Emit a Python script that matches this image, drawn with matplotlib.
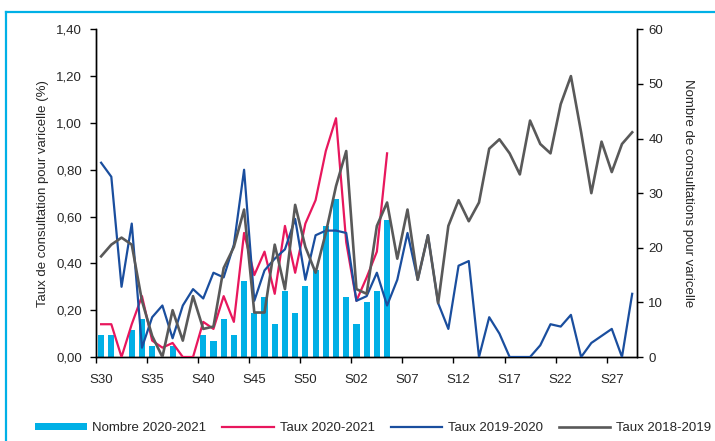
import numpy as np
import matplotlib
matplotlib.use("Agg")
import matplotlib.pyplot as plt
from matplotlib.lines import Line2D
from matplotlib.patches import Patch
from matplotlib.ticker import FuncFormatter

plt.rcParams['font.family'] = ['Liberation Sans', 'DejaVu Sans']

# semaines S30 (2020) -> S29 (2021), 2020 a 53 semaines
semaines = ['S%02d' % s for s in range(30, 54)] + ['S%02d' % s for s in range(1, 30)]

nombre_2020_2021 = [4, 4, 0, 5, 7, 2, 0, 2, 0, 0, 4, 3, 7, 4, 14, 8, 11, 6, 12, 8,
                    13, 16, 24, 29, 11, 6, 10, 12, 25]

taux_2020_2021 = [0.14, 0.14, 0.00, 0.14, 0.26, 0.07, 0.04, 0.06, 0.00, 0.00,
                  0.15, 0.12, 0.26, 0.15, 0.53, 0.35, 0.45, 0.27, 0.56, 0.36,
                  0.57, 0.67, 0.88, 1.02, 0.49, 0.24, 0.34, 0.45, 0.87]

taux_2019_2020 = [0.83, 0.77, 0.30, 0.57, 0.04, 0.17, 0.22, 0.08, 0.22, 0.29,
                  0.25, 0.36, 0.34, 0.48, 0.80, 0.24, 0.37, 0.42, 0.46, 0.59,
                  0.33, 0.52, 0.54, 0.54, 0.53, 0.24, 0.26, 0.36, 0.22, 0.33,
                  0.53, 0.33, 0.52, 0.23, 0.12, 0.39, 0.41, 0.00, 0.17, 0.10,
                  0.00, 0.00, 0.00, 0.05, 0.14, 0.13, 0.18, 0.00, 0.06, 0.09,
                  0.12, 0.00, 0.27]

taux_2018_2019 = [0.43, 0.48, 0.51, 0.48, 0.24, 0.09, 0.00, 0.20, 0.07, 0.26,
                  0.12, 0.13, 0.38, 0.47, 0.63, 0.19, 0.19, 0.48, 0.29, 0.65,
                  0.47, 0.36, 0.53, 0.73, 0.88, 0.29, 0.27, 0.56, 0.66, 0.42,
                  0.63, 0.33, 0.52, 0.23, 0.56, 0.67, 0.58, 0.66, 0.89, 0.93,
                  0.87, 0.78, 1.01, 0.91, 0.87, 1.08, 1.20, 0.96, 0.70, 0.92,
                  0.79, 0.91, 0.96]

c_bar = '#00B0E6'
c_rouge = '#E8175D'
c_bleu = '#1A4E9E'
c_gris = '#595959'
c_texte = '#262626'
fs = 9.5

fig = plt.figure(figsize=(7.15, 4.41), dpi=100)
ax = fig.add_axes([96 / 715, 1 - 357 / 441, (637.3 - 96) / 715, (357 - 29.3) / 441])
ax2 = ax.twinx()

x = np.arange(len(semaines))

ax2.bar(x[:len(nombre_2020_2021)], nombre_2020_2021, width=0.6, color=c_bar, zorder=2)

ax.plot(x[:len(taux_2020_2021)], taux_2020_2021, color=c_rouge, lw=1.6, zorder=3)
ax.plot(x, taux_2019_2020, color=c_bleu, lw=1.6, zorder=4)
ax.plot(x, taux_2018_2019, color=c_gris, lw=1.9, zorder=5)

# lignes au-dessus des barres
ax.set_zorder(ax2.get_zorder() + 1)
ax.patch.set_visible(False)

ax.set_xlim(-0.5, len(semaines) - 0.5)
ax.set_ylim(0, 1.4)
ax2.set_ylim(0, 60)
ax.set_yticks(np.arange(0, 1.41, 0.2))
ax2.set_yticks(np.arange(0, 61, 10))
ax.yaxis.set_major_formatter(FuncFormatter(lambda v, p: ('%.2f' % v).replace('.', ',')))

# graduations entre les categories, etiquettes au centre
ax.set_xticks(np.arange(-0.5, len(semaines) - 1, 5))
ax.set_xticklabels([])
ax.set_xticks(x[::5], minor=True)
ax.set_xticklabels([semaines[i] for i in x[::5]], minor=True)
ax.tick_params(axis='x', which='major', direction='out', length=4, width=1, color='black')
ax.tick_params(axis='x', which='minor', length=0, pad=12, labelsize=fs, labelcolor=c_texte)
ax.tick_params(axis='y', direction='out', length=4, width=1, pad=6, labelsize=fs, labelcolor=c_texte)
ax2.tick_params(axis='y', direction='out', length=4, width=1, pad=4, labelsize=fs, labelcolor=c_texte)

for a in (ax, ax2):
    a.spines['top'].set_visible(False)
    for s in ('left', 'right', 'bottom'):
        a.spines[s].set_linewidth(1)
        a.spines[s].set_color('black')

ax.set_ylabel('Taux de consultation pour varicelle (%)', fontsize=fs, color=c_texte, labelpad=5)
ax2.set_ylabel('Nombre de consultations pour varicelle', fontsize=fs, color=c_texte,
               rotation=270, labelpad=22)

handles = [Patch(facecolor=c_bar, edgecolor='none'),
           Line2D([], [], color=c_rouge, lw=1.6),
           Line2D([], [], color=c_bleu, lw=1.6),
           Line2D([], [], color=c_gris, lw=1.9)]
noms = ['Nombre 2020-2021', 'Taux 2020-2021', 'Taux 2019-2020', 'Taux 2018-2019']
fig.legend(handles, noms, loc='center', bbox_to_anchor=(0.522, 1 - 428 / 441), ncol=4,
           frameon=False, fontsize=fs, handlelength=3.9, handleheight=0.5,
           handletextpad=0.45, columnspacing=1.2, labelcolor=c_texte)

# cadre bleu
fig.add_artist(Line2D([6 / 715, 1.0], [1 - 12 / 441] * 2, color=c_bar, lw=1.6,
                      transform=fig.transFigure))
fig.add_artist(Line2D([6 / 715] * 2, [0.0, 1 - 12 / 441], color=c_bar, lw=1.6,
                      transform=fig.transFigure))

fig.savefig('out.png', dpi=100)
